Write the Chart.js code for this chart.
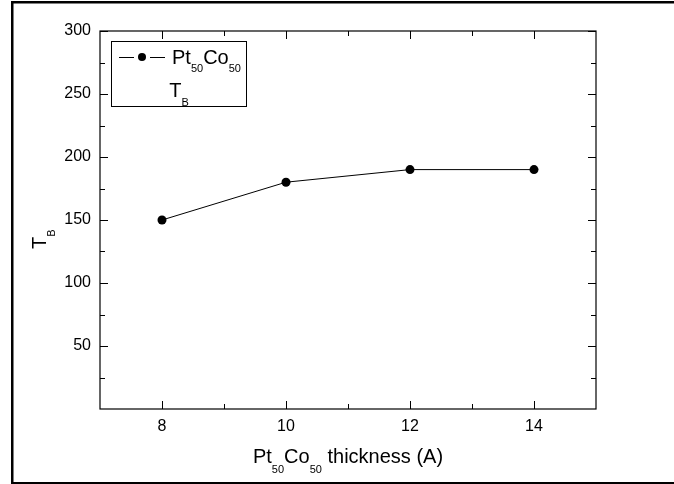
<!DOCTYPE html>
<html>
<head>
<meta charset="utf-8">
<script src="https://cdn.jsdelivr.net/npm/chart.js@4/dist/chart.umd.min.js"></script>
<style>
html,body{margin:0;padding:0;background:#fff;}
canvas{display:block;}
</style>
</head>
<body>
<canvas id="c" width="674" height="484"></canvas>
<script>
// ---- data ----
const thickness = [8, 10, 12, 14];          // Pt50Co50 thickness (A)
const blockingT = [150, 180, 190, 190];     // T_B
const xTickLabels = [8, 10, 12, 14];
const xMinorTicks = [9, 11, 13];
const yTickLabels = [50, 100, 150, 200, 250, 300];
const yMinorTicks = [25, 75, 125, 175, 225, 275];

const FONT = '"Liberation Sans", Arial, Helvetica, sans-serif';

function drawSub(ctx, parts, x, y, big, small, off) {
  let cx = x;
  parts.forEach(([t, sub]) => {
    ctx.font = (sub ? small : big) + 'px ' + FONT;
    ctx.fillText(t, cx, sub ? y + off : y);
    cx += ctx.measureText(t).width;
  });
  return cx - x;
}
function measureSub(ctx, parts, big, small) {
  let w = 0;
  parts.forEach(([t, sub]) => {
    ctx.font = (sub ? small : big) + 'px ' + FONT;
    w += ctx.measureText(t).width;
  });
  return w;
}

const decor = {
  id: 'decor',
  afterDatasetsDraw(chart) {
    const ctx = chart.ctx;
    const a = chart.chartArea;
    const xs = chart.scales.x, ys = chart.scales.y;
    ctx.save();
    ctx.strokeStyle = '#000';
    ctx.fillStyle = '#000';
    ctx.lineWidth = 1.2;
    ctx.strokeRect(a.left, a.top, a.right - a.left, a.bottom - a.top);
    ctx.beginPath();
    const tick = (v, len, axis) => {
      if (axis === 'x') {
        const p = Math.round(xs.getPixelForValue(v)) + 0.5;
        ctx.moveTo(p, a.bottom); ctx.lineTo(p, a.bottom - len);
        ctx.moveTo(p, a.top); ctx.lineTo(p, a.top + len);
      } else {
        const p = Math.round(ys.getPixelForValue(v)) + 0.5;
        ctx.moveTo(a.left, p); ctx.lineTo(a.left + len, p);
        ctx.moveTo(a.right, p); ctx.lineTo(a.right - len, p);
      }
    };
    xTickLabels.forEach(v => tick(v, 8, 'x'));
    xMinorTicks.forEach(v => tick(v, 5, 'x'));
    yTickLabels.forEach(v => tick(v, 8, 'y'));
    yMinorTicks.forEach(v => tick(v, 5, 'y'));
    ctx.lineWidth = 1;
    ctx.stroke();

    // x axis title
    ctx.textBaseline = 'alphabetic';
    ctx.textAlign = 'left';
    const xParts = [['Pt', false], ['50', true], ['Co', false], ['50', true], [' thickness (A)', false]];
    const wX = measureSub(ctx, xParts, 20, 11);
    drawSub(ctx, xParts, (a.left + a.right) / 2 - wX / 2, 463, 20, 11, 10);

    // y axis title (rotated)
    ctx.save();
    ctx.translate(46, 249);
    ctx.rotate(-Math.PI / 2);
    drawSub(ctx, [['T', false], ['B', true]], 0, 0, 20, 11, 9);
    ctx.restore();

    // legend
    ctx.lineWidth = 1;
    ctx.strokeRect(111.5, 41.5, 135, 65);
    ctx.beginPath();
    ctx.moveTo(119, 57.5); ctx.lineTo(134, 57.5);
    ctx.moveTo(150, 57.5); ctx.lineTo(165, 57.5);
    ctx.stroke();
    ctx.beginPath();
    ctx.arc(142, 57, 4, 0, Math.PI * 2);
    ctx.fill();
    drawSub(ctx, [['Pt', false], ['50', true], ['Co', false], ['50', true]], 172, 63.5, 20, 11, 8.5);
    const lp = [['T', false], ['B', true]];
    const wl = measureSub(ctx, lp, 20, 11);
    drawSub(ctx, lp, 179 - wl / 2, 97, 20, 11, 8.5);

    // outer border
    ctx.lineWidth = 2.5;
    ctx.strokeRect(12.25, 2.25, 700, 481);
    ctx.restore();
  }
};

new Chart(document.getElementById('c'), {
  type: 'scatter',
  data: {
    datasets: [{
      label: 'Pt50Co50 T_B',
      data: thickness.map((x, i) => ({ x: x, y: blockingT[i] })),
      showLine: true,
      borderColor: '#000',
      borderWidth: 1,
      backgroundColor: '#000',
      pointBackgroundColor: '#000',
      pointBorderColor: '#000',
      pointRadius: 4.5,
      pointBorderWidth: 0,
      tension: 0
    }]
  },
  options: {
    responsive: false,
    devicePixelRatio: 1,
    animation: false,
    layout: { padding: { left: 0, top: 31, right: 78, bottom: 0 } },
    plugins: { legend: { display: false }, tooltip: { enabled: false } },
    scales: {
      x: {
        type: 'linear', min: 7, max: 15,
        afterBuildTicks: s => { s.ticks = xTickLabels.map(v => ({ value: v })); },
        afterFit: s => { s.height = 75; },
        grid: { display: false, drawTicks: false },
        border: { display: false },
        ticks: { color: '#000', font: { family: FONT, size: 16 }, padding: 8, maxRotation: 0 }
      },
      y: {
        type: 'linear', min: 0, max: 300,
        afterBuildTicks: s => { s.ticks = yTickLabels.map(v => ({ value: v })); },
        afterFit: s => { s.width = 100; },
        grid: { display: false, drawTicks: false },
        border: { display: false },
        ticks: { color: '#000', font: { family: FONT, size: 16 }, padding: 9 }
      }
    }
  },
  plugins: [decor]
});
</script>
</body>
</html>
